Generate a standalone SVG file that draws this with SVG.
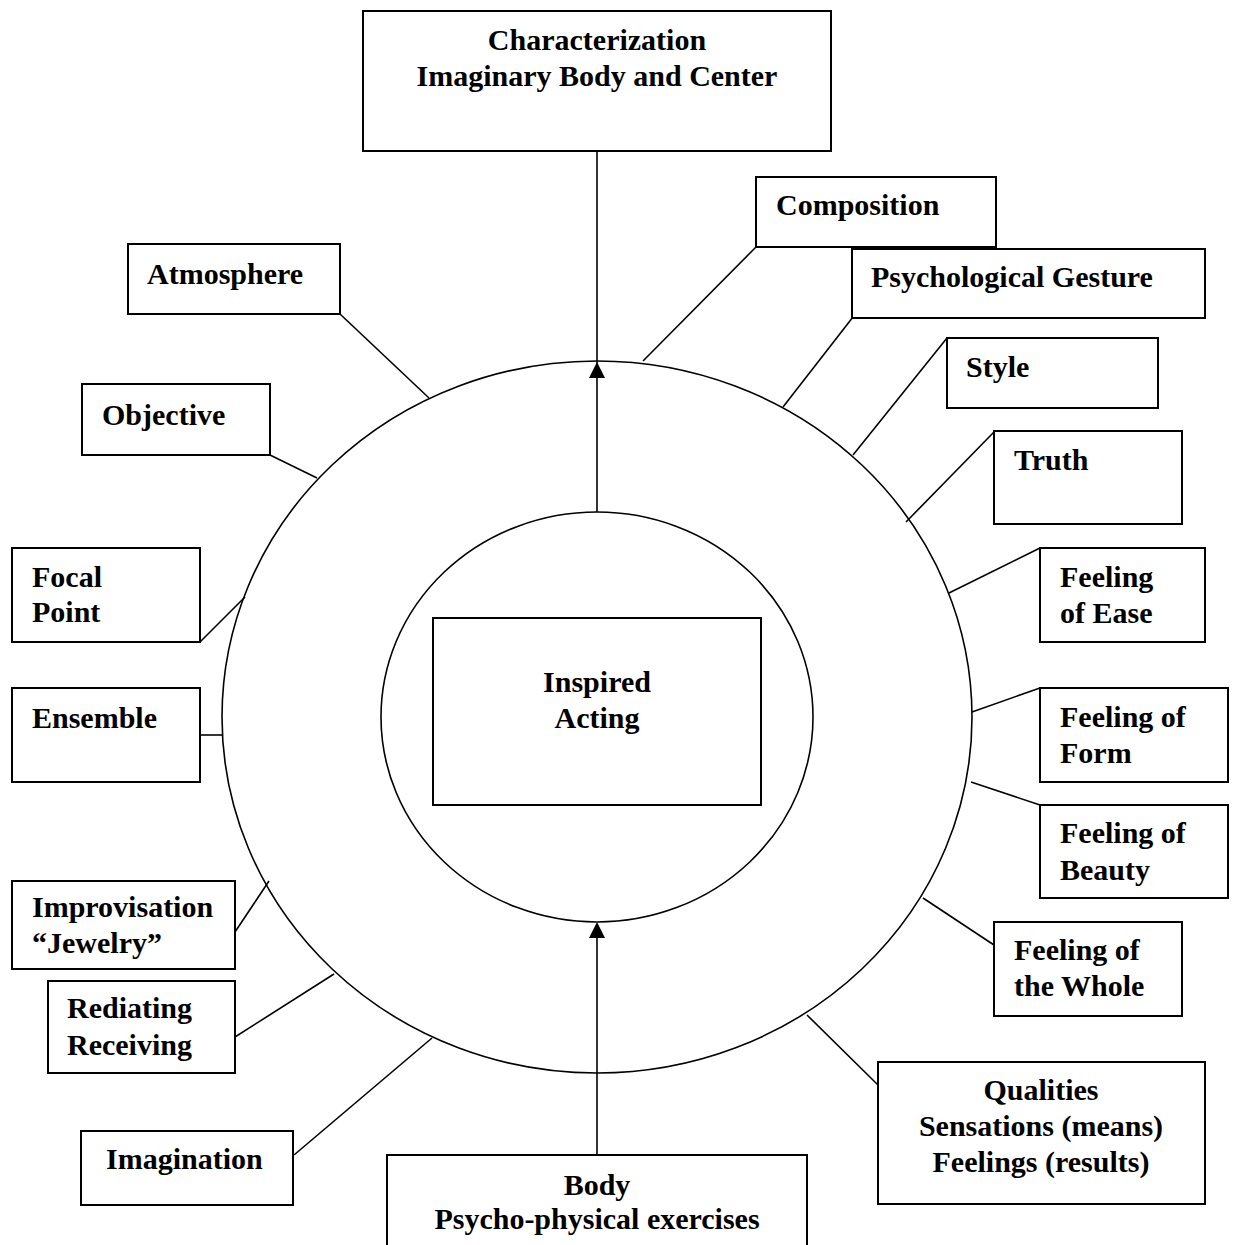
<svg xmlns="http://www.w3.org/2000/svg" width="1234" height="1245" viewBox="0 0 1234 1245">
<style>
.box{fill:#fff;stroke:#000;stroke-width:2}
.ring{fill:none;stroke:#000;stroke-width:1.6}
.ln{stroke:#000;stroke-width:1.6;fill:none}
text{font-family:"Liberation Serif","Times New Roman",serif;font-weight:bold;font-size:30px;fill:#000}
.c{text-anchor:middle}
</style>
<rect width="1234" height="1245" fill="#fff"/>
<g id="rings">
<ellipse class="ring" cx="597" cy="717" rx="375" ry="356"/>
<ellipse class="ring" cx="597" cy="717" rx="216" ry="205"/>
</g>
<g id="connectors">
<line class="ln" x1="597" y1="151" x2="597" y2="512"/>
<polygon points="597,362 589,378 605,378" fill="#000"/>
<line class="ln" x1="597" y1="1155" x2="597" y2="930"/>
<polygon points="597,922 589,938 605,938" fill="#000"/>
<line class="ln" x1="757" y1="246" x2="643" y2="361"/>
<line class="ln" x1="853" y1="317" x2="783" y2="407"/>
<line class="ln" x1="947" y1="338" x2="853" y2="455"/>
<line class="ln" x1="994" y1="432" x2="906" y2="522"/>
<line class="ln" x1="1040" y1="548" x2="949" y2="593"/>
<line class="ln" x1="1040" y1="688" x2="972" y2="712"/>
<line class="ln" x1="1040" y1="805" x2="971" y2="782"/>
<line class="ln" x1="994" y1="945" x2="923" y2="898"/>
<line class="ln" x1="878" y1="1085" x2="807" y2="1015"/>
<line class="ln" x1="294" y1="1155" x2="432" y2="1038"/>
<line class="ln" x1="235" y1="1037" x2="334" y2="974"/>
<line class="ln" x1="235" y1="932" x2="269" y2="881"/>
<line class="ln" x1="200" y1="735" x2="223" y2="735"/>
<line class="ln" x1="200" y1="642" x2="245" y2="597"/>
<line class="ln" x1="270" y1="455" x2="317" y2="478"/>
<line class="ln" x1="340" y1="314" x2="429" y2="398"/>
</g>
<g id="n-characterization">
<rect class="box" x="363" y="11" width="468" height="140"/>
<text class="c" x="597" y="50">Characterization</text>
<text class="c" x="597" y="86">Imaginary Body and Center</text>
</g>
<g id="n-inspired">
<rect class="box" x="433" y="618" width="328" height="187"/>
<text class="c" x="597" y="692">Inspired</text>
<text class="c" x="597" y="728">Acting</text>
</g>
<g id="n-body">
<rect class="box" x="387" y="1155" width="420" height="100"/>
<text class="c" x="597" y="1195">Body</text>
<text class="c" x="597" y="1229">Psycho-physical exercises</text>
</g>
<g id="n-composition">
<rect class="box" x="756" y="177" width="240" height="70"/>
<text x="776" y="215">Composition</text>
</g>
<g id="n-psych">
<rect class="box" x="852" y="249" width="353" height="69"/>
<text x="871" y="287">Psychological Gesture</text>
</g>
<g id="n-style">
<rect class="box" x="947" y="338" width="211" height="70"/>
<text x="966" y="377">Style</text>
</g>
<g id="n-truth">
<rect class="box" x="994" y="431" width="188" height="93"/>
<text x="1014" y="470">Truth</text>
</g>
<g id="n-ease">
<rect class="box" x="1040" y="548" width="165" height="94"/>
<text x="1060" y="587">Feeling</text>
<text x="1060" y="623">of Ease</text>
</g>
<g id="n-form">
<rect class="box" x="1040" y="688" width="188" height="94"/>
<text x="1060" y="727">Feeling of</text>
<text x="1060" y="763">Form</text>
</g>
<g id="n-beauty">
<rect class="box" x="1040" y="805" width="188" height="93"/>
<text x="1060" y="843">Feeling of</text>
<text x="1060" y="880">Beauty</text>
</g>
<g id="n-whole">
<rect class="box" x="994" y="922" width="188" height="94"/>
<text x="1014" y="960">Feeling of</text>
<text x="1014" y="996">the Whole</text>
</g>
<g id="n-qualities">
<rect class="box" x="878" y="1062" width="327" height="142"/>
<text class="c" x="1041" y="1100">Qualities</text>
<text class="c" x="1041" y="1136">Sensations (means)</text>
<text class="c" x="1041" y="1172">Feelings (results)</text>
</g>
<g id="n-imagination">
<rect class="box" x="81" y="1131" width="212" height="74"/>
<text x="106" y="1169">Imagination</text>
</g>
<g id="n-rediating">
<rect class="box" x="48" y="981" width="187" height="92"/>
<text x="67" y="1018">Rediating</text>
<text x="67" y="1055">Receiving</text>
</g>
<g id="n-improvisation">
<rect class="box" x="12" y="881" width="223" height="88"/>
<text x="32" y="917">Improvisation</text>
<text x="32" y="953">“Jewelry”</text>
</g>
<g id="n-ensemble">
<rect class="box" x="12" y="688" width="188" height="94"/>
<text x="32" y="728">Ensemble</text>
</g>
<g id="n-focal">
<rect class="box" x="12" y="548" width="188" height="94"/>
<text x="32" y="587">Focal</text>
<text x="32" y="622">Point</text>
</g>
<g id="n-objective">
<rect class="box" x="82" y="384" width="188" height="71"/>
<text x="102" y="425">Objective</text>
</g>
<g id="n-atmosphere">
<rect class="box" x="128" y="244" width="212" height="70"/>
<text x="147" y="284">Atmosphere</text>
</g>
</svg>
